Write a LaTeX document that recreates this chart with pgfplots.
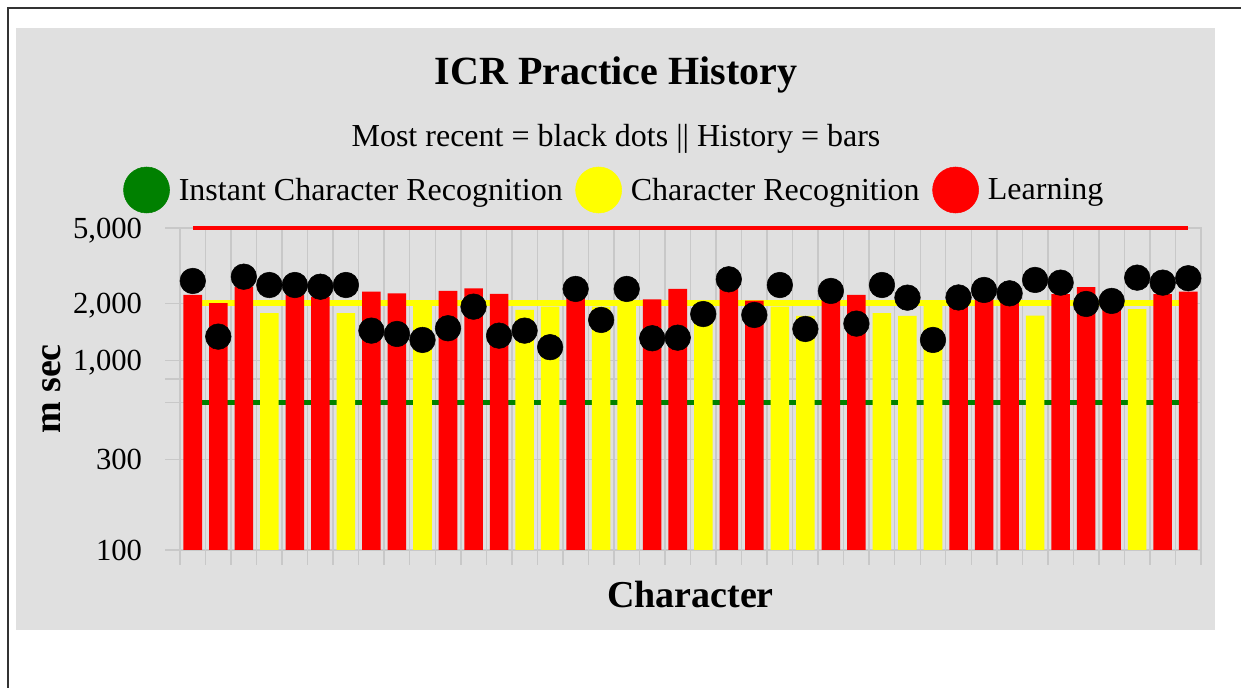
\documentclass[border=0pt]{standalone}
\usepackage{pgfplots}
\pgfplotsset{compat=1.18}
\usepackage{fontspec}
\setmainfont{Liberation Serif}
\definecolor{panel}{RGB}{224,224,224}
\definecolor{gridgray}{RGB}{200,200,200}
\definecolor{htmlgreen}{RGB}{0,128,0}
\definecolor{htmlred}{RGB}{255,0,0}
\definecolor{htmlyellow}{RGB}{255,255,0}
\begin{document}
\begin{tikzpicture}
\begin{scope}[x=0.75pt,y=0.75pt]
\useasboundingbox (0,0) rectangle (1241,688);
\fill[white] (0,0) rectangle (1241,688);
\draw[line width=1.5pt, black!80] (8,0) -- (8,680) -- (1241,680);
\fill[panel] (16,58) rectangle (1215,660);
\node[anchor=base, font=\bfseries\fontsize{30}{30}\selectfont] at (616,603) {ICR Practice History};
\node[anchor=base, font=\fontsize{24}{24}\selectfont] at (616,541) {Most recent = black dots || History = bars};
\node[anchor=base, font=\bfseries\fontsize{28.5}{28.5}\selectfont] at (690.5,80) {Character};
\node[anchor=base, rotate=90, font=\bfseries\fontsize{28.5}{28.5}\selectfont] at (60,299) {m sec};
\end{scope}
\begin{axis}[
  at={(135pt,103.5pt)}, anchor=south west,
  scale only axis, width=765.75pt, height=241.5pt,
  ymode=log, ymin=100, ymax=5000, log origin y=infty,
  xmin=-0.5, xmax=39.5,
  xtick={-0.5,0.5,...,39.5}, xticklabels={},
  ytick={100,300,600,800,1000,2000,5000},
  yticklabels={100,300,,,{1,000},{2,000},{5,000}},
  yticklabel style={font=\fontsize{23}{23}\selectfont, text depth=0pt, anchor=east, inner sep=0pt, xshift=-17.25pt},
  xtick pos=lower, ytick pos=left,
  xmajorgrids, ymajorgrids,
  grid style={draw=gridgray, line width=1.1pt},
  axis line style={draw=gridgray, line width=1.1pt},
  tick style={draw=gridgray, line width=1.1pt},
  tick align=outside, major tick length=11pt,
  clip=false,
  legend columns=3,
  legend image code/.code={\fill[#1] (0pt,0pt) circle (17.25pt);},
  legend style={at={(rel axis cs:-0.0558,1.118)}, anchor=west, draw=none, fill=none, inner sep=0pt,
    nodes={inner sep=0pt, font=\fontsize{24}{24}\selectfont},
    /tikz/every odd column/.append style={column sep=6.75pt},
    /tikz/every even column/.append style={column sep=9.5pt}},
]
\addlegendimage{htmlgreen}
\addlegendentry{Instant Character Recognition}
\addlegendimage{htmlyellow}
\addlegendentry{Character Recognition}
\addlegendimage{htmlred}
\addlegendentry{Learning}
% reference lines behind bars
\addplot[forget plot, htmlgreen, line width=3.6pt] coordinates {(0,600) (39,600)};
\addplot[forget plot, htmlyellow, line width=4.6pt] coordinates {(0,2000) (39,2000)};
% learning bars
\addplot[forget plot, ybar, bar shift=0pt, bar width=13.9pt, fill=htmlred, draw=none] coordinates {
(0,2217) (1,2004) (2,2450) (4,2217) (5,2160) (7,2307) (8,2261) (10,2327) (11,2404) (12,2244)
(15,2130) (18,2100) (19,2384) (21,2420) (22,2069) (25,2200) (26,2217) (30,2050) (31,2130)
(32,2130) (34,2236) (35,2440) (36,1950) (38,2236) (39,2307)};
% character recognition bars
\addplot[forget plot, ybar, bar shift=0pt, bar width=13.9pt, fill=htmlyellow, draw=none] coordinates {
(3,1775) (6,1775) (9,1946) (13,1847) (14,1923) (16,1923) (17,1990) (20,1900) (23,1923)
(24,1717) (27,1775) (28,1717) (29,1960) (33,1725) (37,1865)};
% top reference line
\addplot[forget plot, htmlred, line width=2.4pt] coordinates {(0,5000) (39,5000)};
% most recent
\addplot[forget plot, only marks, mark=*, mark size=9.6pt, black] coordinates {
(0,2627) (1,1336) (2,2767) (3,2501) (4,2501) (5,2450) (6,2501) (7,1437) (8,1380) (9,1283)
(10,1479) (11,1923) (12,1352) (13,1437) (14,1175) (15,2384) (16,1636) (17,2384) (18,1310) (19,1319)
(20,1758) (21,2681) (22,1738) (23,2501) (24,1466) (25,2327) (26,1565) (27,2501) (28,2145) (29,1283)
(30,2150) (31,2355) (32,2261) (33,2660) (34,2574) (35,1987) (36,2061) (37,2735) (38,2574) (39,2716)};
\end{axis}
\end{tikzpicture}
\end{document}
